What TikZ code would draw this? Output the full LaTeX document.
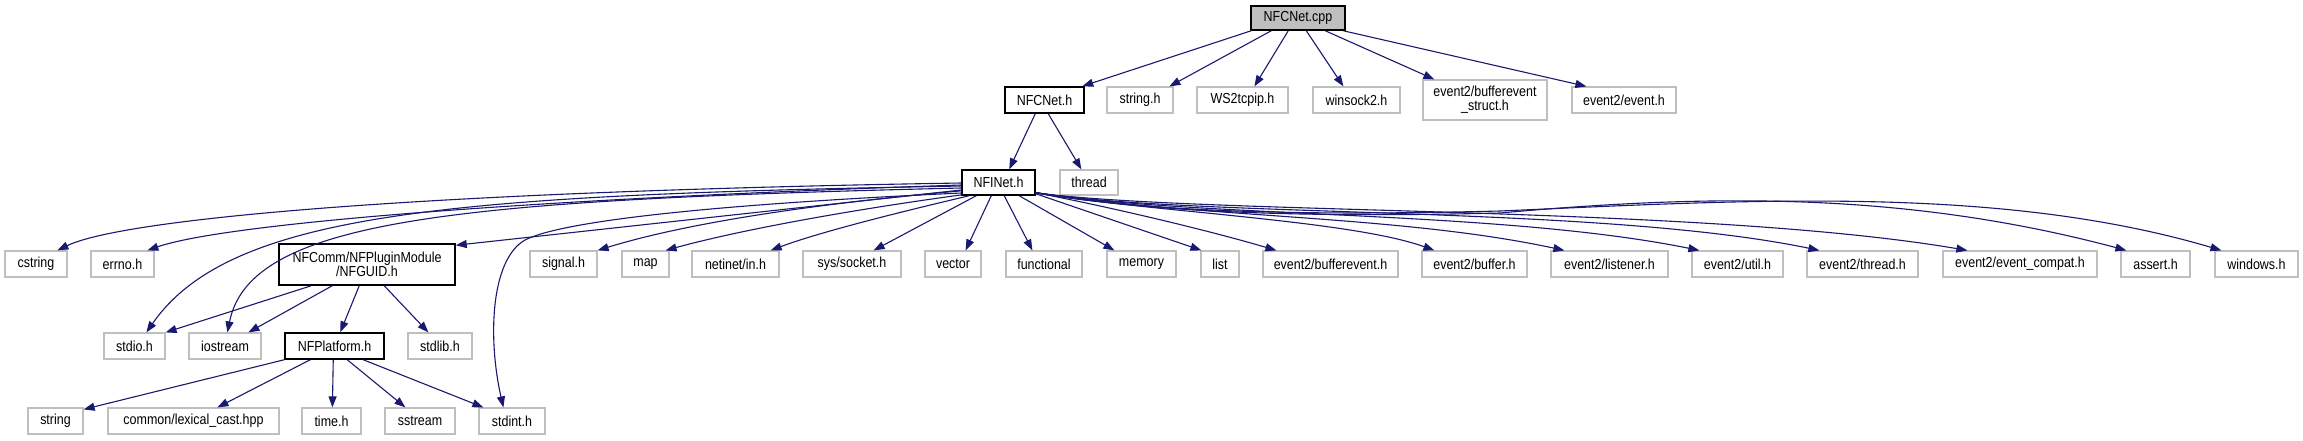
\documentclass[tikz,border=0pt]{standalone}
\usepackage{fontspec}
\setmainfont[FakeStretch=0.86]{Liberation Sans}
\usetikzlibrary{arrows.meta,calc}
\definecolor{edgec}{HTML}{191970}
\definecolor{boxgrey}{HTML}{BFBFBF}
\begin{document}
\begin{tikzpicture}[x=1pt,y=-1pt,
 hdr/.style={draw=boxgrey,line width=1.2pt,fill=white,inner sep=0pt,minimum height=26pt,font=\fontsize{14.5}{13.8}\selectfont,align=center},
 hdrk/.style={hdr,draw=black,line width=1.5pt},
 dep/.style={draw=edgec,line width=1.1pt,-{Triangle[length=11pt,width=8pt]}}]
\fill[white] (0,0) rectangle (2303,440);
\useasboundingbox (0,0) rectangle (2303,440);
% row 0
\node[hdrk,fill=boxgrey,minimum width=94pt,minimum height=24pt] (cpp) at (1298,18) {NFCNet.cpp};
% row 1
\node[hdrk,minimum width=79pt] (nfcneth) at (1044.5,100) {NFCNet.h};
\node[hdr,minimum width=66pt] (stringh) at (1140,100) {string.h};
\node[hdr,minimum width=91pt] (ws2) at (1242.5,100) {WS2tcpip.h};
\node[hdr,minimum width=87pt] (winsock) at (1356.5,100) {winsock2.h};
\node[hdr,minimum width=124pt,minimum height=40pt] (bes) at (1485,100) {event2/bufferevent\\\_struct.h};
\node[hdr,minimum width=104pt] (eventh) at (1624,100) {event2/event.h};
% row 2
\node[hdrk,minimum width=73pt,minimum height=25pt] (nfinet) at (998.5,182.5) {NFINet.h};
\node[hdr,minimum width=58pt,minimum height=25pt] (thread) at (1089,182.5) {thread};
% row 3
\node[hdr,minimum width=62pt] (cstring) at (36,264) {cstring};
\node[hdr,minimum width=63pt] (errno) at (122.5,264) {errno.h};
\node[hdrk,minimum width=176pt,minimum height=41pt] (nfguid) at (367,264.5) {NFComm/NFPluginModule\\/NFGUID.h};
\node[hdr,minimum width=67pt] (signal) at (563.5,264) {signal.h};
\node[hdr,minimum width=47pt] (map) at (645.5,264) {map};
\node[hdr,minimum width=87pt] (netinet) at (735.5,264) {netinet/in.h};
\node[hdr,minimum width=98pt] (syssocket) at (852,264) {sys/socket.h};
\node[hdr,minimum width=56pt] (vector) at (953,264) {vector};
\node[hdr,minimum width=76pt] (functional) at (1044,264) {functional};
\node[hdr,minimum width=69pt] (memory) at (1141.5,264) {memory};
\node[hdr,minimum width=38pt] (list) at (1220,264) {list};
\node[hdr,minimum width=135pt] (bufferevent) at (1330.5,264) {event2/bufferevent.h};
\node[hdr,minimum width=105pt] (buffer) at (1474.5,264) {event2/buffer.h};
\node[hdr,minimum width=117pt] (listener) at (1609.5,264) {event2/listener.h};
\node[hdr,minimum width=91pt] (util) at (1737.5,264) {event2/util.h};
\node[hdr,minimum width=111pt] (threadh) at (1862.5,264) {event2/thread.h};
\node[hdr,minimum width=154pt] (evcompat) at (2020,264) {event2/event\_compat.h};
\node[hdr,minimum width=69pt] (assert) at (2155.5,264) {assert.h};
\node[hdr,minimum width=83pt] (windows) at (2256.5,264) {windows.h};
% row 4
\node[hdr,minimum width=61pt] (stdio) at (134.5,346) {stdio.h};
\node[hdr,minimum width=72pt] (iostream) at (225,346) {iostream};
\node[hdrk,minimum width=99pt] (nfplatform) at (334.5,346) {NFPlatform.h};
\node[hdr,minimum width=64pt] (stdlib) at (440,346) {stdlib.h};
% row 5
\node[hdr,minimum width=55pt] (string) at (55.5,421) {string};
\node[hdr,minimum width=171pt] (lexical) at (193.5,421) {common/lexical\_cast.hpp};
\node[hdr,minimum width=59pt] (time) at (331.5,421) {time.h};
\node[hdr,minimum width=70pt] (sstream) at (420,421) {sstream};
\node[hdr,minimum width=66pt] (stdint) at (512,421) {stdint.h};
% edges from NFCNet.cpp
\draw[dep] ($(cpp.south west)+(1,0)$) -- ($(nfcneth.north west)+(78,0)$);
\draw[dep] ($(cpp.south west)+(21,0)$) -- ($(stringh.north west)+(63,0)$);
\draw[dep] ($(cpp.south west)+(38,0)$) -- ($(ws2.north west)+(58,0)$);
\draw[dep] ($(cpp.south west)+(56,0)$) -- ($(winsock.north west)+(31,0)$);
\draw[dep] ($(cpp.south west)+(75,0)$) -- ($(bes.north west)+(12,0)$);
\draw[dep] ($(cpp.south west)+(93,0)$) -- ($(eventh.north west)+(15,0)$);
% edges from NFCNet.h
\draw[dep] ($(nfcneth.south west)+(31,0)$) -- ($(nfinet.north west)+(48,0)$);
\draw[dep] ($(nfcneth.south west)+(44,0)$) -- ($(thread.north west)+(22,0)$);
% edges from NFINet.h to the left
\draw[dep] ($(nfinet.west)+(0,0.5)$) .. controls (400,192) and (120,220) .. ($(cstring.north west)+(53,0)$);
\draw[dep] ($(nfinet.west)+(0,2.5)$) .. controls (500,200) and (220,225) .. ($(errno.north west)+(57,0)$);
\draw[dep] ($(nfinet.west)+(0,3.5)$) .. controls (450,195) and (230,212) .. ($(stdio.north west)+(43,0)$);
\draw[dep] ($(nfinet.west)+(0,5.5)$) .. controls (450,200) and (250,220) .. ($(iostream.north west)+(39,0)$);
\draw[dep] ($(nfinet.west)+(0,7.5)$) -- ($(nfguid.north east)+(0,2)$);
\draw[dep] ($(nfinet.west)+(0,10.5)$) .. controls (700,205) and (560,222) .. (525,240) .. controls (490,260) and (488,340) .. ($(stdint.north west)+(25,0)$);
\draw[dep] ($(nfinet.south west)+(1,-5)$) .. controls (800,205) and (680,225) .. (signal.north east);
\draw[dep] ($(nfinet.south west)+(1,-1)$) .. controls (850,210) and (740,230) .. ($(map.north east)+(-4,0)$);
\draw[dep] ($(nfinet.south west)+(8,0)$) .. controls (900,212) and (820,232) .. ($(netinet.north east)+(-9,0)$);
\draw[dep] ($(nfinet.south west)+(15,0)$) -- ($(syssocket.north east)+(-28,0)$);
\draw[dep] ($(nfinet.south west)+(30,0)$) -- ($(vector.north east)+(-16,0)$);
\draw[dep] ($(nfinet.south west)+(43,0)$) -- ($(functional.north west)+(27,0)$);
\draw[dep] ($(nfinet.south west)+(58,0)$) -- ($(memory.north west)+(8,0)$);
% edges from NFINet.h to the right
\draw[dep] ($(nfinet.south east)+(0,-2)$) -- ($(list.north west)+(1,0)$);
\draw[dep] ($(nfinet.south east)+(0,-3)$) .. controls (1100,205) and (1200,228) .. ($(bufferevent.north west)+(14,0)$);
\draw[dep] ($(nfinet.south east)+(0,-3)$) .. controls (1150,212) and (1350,220) .. ($(buffer.north west)+(13,0)$);
\draw[dep] ($(nfinet.south east)+(0,-3)$) .. controls (1200,218) and (1400,215) .. ($(listener.north west)+(14,0)$);
\draw[dep] ($(nfinet.south east)+(0,-3)$) .. controls (1200,218) and (1500,210) .. ($(util.north west)+(8,0)$);
\draw[dep] ($(nfinet.south east)+(0,-3)$) .. controls (1200,218) and (1600,205) .. ($(threadh.north west)+(13,0)$);
\draw[dep] ($(nfinet.south east)+(0,-3)$) .. controls (1200,215) and (1700,205) .. ($(evcompat.north west)+(25,0)$);
\draw[dep] ($(nfinet.south east)+(0,-3)$) .. controls (1150,212) and (1300,218) .. (1500,213) .. controls (1700,195) and (1900,190) .. ($(assert.north west)+(6,0)$);
\draw[dep] ($(nfinet.south east)+(0,-3)$) .. controls (1150,212) and (1300,216) .. (1500,211) .. controls (1750,200) and (2000,185) .. ($(windows.north west)+(7,0)$);
% edges from NFGUID.h
\draw[dep] ($(nfguid.south west)+(33,0)$) -- (stdio.north east);
\draw[dep] ($(nfguid.south west)+(54,0)$) -- ($(iostream.north west)+(60,0)$);
\draw[dep] ($(nfguid.south west)+(81,0)$) -- ($(nfplatform.north west)+(56,0)$);
\draw[dep] ($(nfguid.south west)+(106,0)$) -- ($(stdlib.north west)+(21,0)$);
% edges from NFPlatform.h
\draw[dep] (nfplatform.south west) -- ($(string.north east)+(0,2)$);
\draw[dep] ($(nfplatform.south west)+(26,0)$) -- ($(lexical.north west)+(110,0)$);
\draw[dep] ($(nfplatform.south west)+(49,0)$) -- ($(time.north west)+(31,0)$);
\draw[dep] ($(nfplatform.south west)+(63,0)$) -- ($(sstream.north west)+(21,0)$);
\draw[dep] ($(nfplatform.south west)+(79,0)$) -- ($(stdint.north west)+(5,0)$);
\end{tikzpicture}
\end{document}
